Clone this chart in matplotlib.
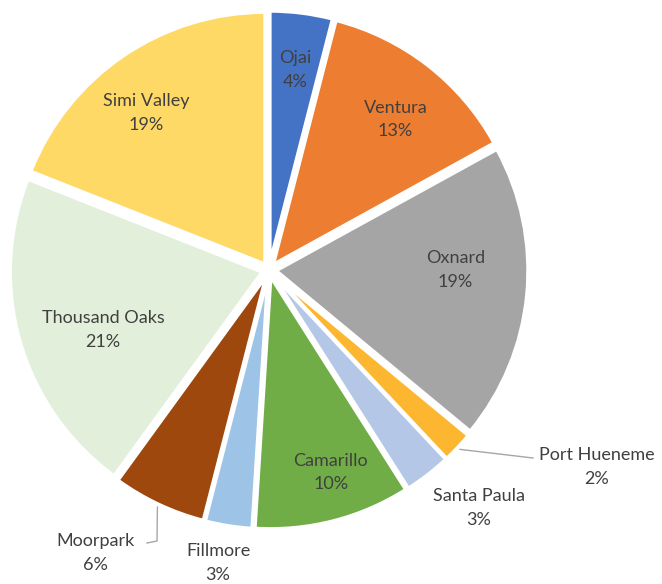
import numpy as np
import matplotlib
matplotlib.use("Agg")
import matplotlib.pyplot as plt

# ---- data ----
cities = ["Ojai", "Ventura", "Oxnard", "Port Hueneme", "Santa Paula",
          "Camarillo", "Fillmore", "Moorpark", "Thousand Oaks", "Simi Valley"]
shares = [4, 13, 19, 2, 3, 10, 3, 6, 21, 19]
colors = ["#4472C4", "#ED7D31", "#A5A5A5", "#FDB62F", "#B4C7E7",
          "#70AD47", "#9DC3E6", "#9E480E", "#E2EFDA", "#FFD966"]

W, H = 662, 584
fig = plt.figure(figsize=(W / 100, H / 100), dpi=100)
ax = fig.add_axes([0, 0, 1, 1])

CX, CY = 269, 270          # pie centre (pixels from top-left)
R = 252                    # radius in pixels
EXPL = 0.028 * R           # explode offset (data units = pixels)

wedges, _ = ax.pie(shares, colors=colors, startangle=90, counterclock=False,
                   center=(CX, H - CY), radius=R, explode=[EXPL] * len(shares),
                   wedgeprops=dict(edgecolor="white", linewidth=2.5))
ax.set_xlim(0, W)
ax.set_ylim(0, H)
ax.set_aspect("equal")
ax.axis("off")

txt_color = "#404040"
font = dict(family=["Lato", "DejaVu Sans"], fontsize=13, color=txt_color)
LS = 1.6

# bisector angles (clockwise from top, degrees)
cum = np.cumsum([0] + shares)
mid = [(cum[i] + cum[i + 1]) / 2 / 100 * 360 for i in range(len(shares))]

def polar(theta_deg, dist):
    t = np.deg2rad(theta_deg)
    return CX + dist * np.sin(t), (H - CY) + dist * np.cos(t)

# inside labels: (index, angle adjust, radius fraction)
inside = {0: (0.3, 0.80), 1: (2.2, 0.78), 2: (-5.4, 0.74), 5: (-2.6, 0.84),
          8: (-3.8, 0.70), 9: (-3.8, 0.79)}
for i, (dang, rf) in inside.items():
    x, y = polar(mid[i] + dang, rf * R)
    ax.text(x, y, f"{cities[i]}\n{shares[i]}%", ha="center", va="center",
            linespacing=LS, **font)

# outside labels (pixel positions from top-left)
outside = {3: (597, 467), 4: (479, 508), 6: (218, 563), 7: (95, 553)}
for i, (x, y) in outside.items():
    ax.text(x, H - y, f"{cities[i]}\n{shares[i]}%", ha="center", va="center",
            linespacing=LS, **font)

# leader lines
x0, y0 = polar(mid[3], R + EXPL + 3)
ax.plot([x0, 533], [y0, H - 458], color="#A6A6A6", lw=1)
x0, y0 = polar(mid[7], R + EXPL + 3)
ax.plot([x0, 157, 147], [y0, H - 541, H - 543], color="#A6A6A6", lw=1)

fig.savefig("out.png", dpi=100, facecolor="white")
